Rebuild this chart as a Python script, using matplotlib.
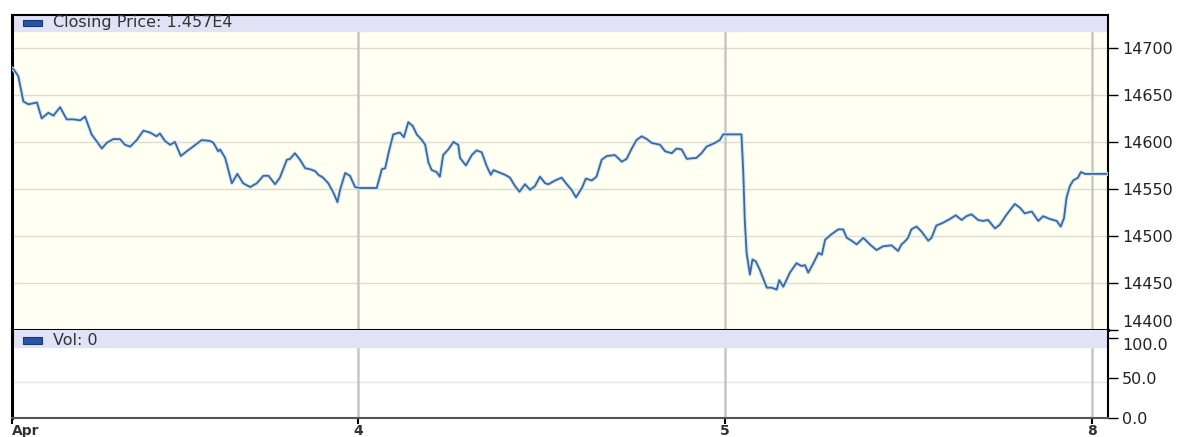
import numpy as np
import matplotlib.pyplot as plt
from matplotlib.patches import Rectangle

# trading-day position (4 = 1.0, 5 = 2.0, 8 = 3.0) and closing price
t = [0.057, 0.062, 0.074, 0.088, 0.102, 0.125, 0.138, 0.156, 0.170, 0.188,
     0.206, 0.224, 0.243, 0.256, 0.274, 0.302, 0.315, 0.333, 0.351, 0.365,
     0.379, 0.397, 0.415, 0.433, 0.451, 0.460, 0.474, 0.488, 0.501, 0.517,
     0.533, 0.547, 0.574, 0.597, 0.606, 0.619, 0.624, 0.638, 0.656, 0.671,
     0.687, 0.706, 0.724, 0.742, 0.756, 0.774, 0.787, 0.806, 0.815, 0.828,
     0.842, 0.856, 0.869, 0.883, 0.892, 0.905, 0.919, 0.933, 0.944, 0.951,
     0.965, 0.978, 0.992, 1.005, 1.051, 1.065, 1.074, 1.083, 1.096, 1.114,
     1.125, 1.137, 1.149, 1.160, 1.174, 1.183, 1.192, 1.201, 1.214, 1.223,
     1.232, 1.246, 1.260, 1.273, 1.278, 1.294, 1.310, 1.323, 1.337, 1.351,
     1.362, 1.369, 1.382, 1.401, 1.414, 1.428, 1.440, 1.455, 1.469, 1.482,
     1.496, 1.510, 1.519, 1.537, 1.555, 1.569, 1.582, 1.594, 1.610, 1.621,
     1.637, 1.650, 1.664, 1.678, 1.700, 1.719, 1.732, 1.746, 1.759, 1.773,
     1.787, 1.800, 1.823, 1.837, 1.855, 1.868, 1.882, 1.896, 1.922, 1.936,
     1.950, 1.973, 1.986, 1.995, 2.045, 2.050, 2.054, 2.059, 2.068, 2.075,
     2.084, 2.095, 2.114, 2.127, 2.141, 2.148, 2.159, 2.177, 2.195, 2.209,
     2.218, 2.227, 2.241, 2.255, 2.264, 2.273, 2.291, 2.309, 2.322, 2.332,
     2.345, 2.359, 2.377, 2.395, 2.413, 2.431, 2.454, 2.472, 2.481, 2.490,
     2.499, 2.508, 2.522, 2.535, 2.554, 2.563, 2.576, 2.594, 2.613, 2.629,
     2.645, 2.658, 2.672, 2.690, 2.703, 2.717, 2.736, 2.749, 2.768, 2.790,
     2.804, 2.817, 2.836, 2.854, 2.867, 2.886, 2.904, 2.915, 2.924, 2.931,
     2.940, 2.949, 2.962, 2.970, 2.981, 3.040]
price = [14678, 14677, 14670, 14643, 14640, 14642, 14625, 14631, 14628, 14637,
         14624, 14624, 14623, 14627, 14608, 14593, 14599, 14603, 14603, 14597,
         14595, 14602, 14612, 14610, 14606, 14609, 14601, 14597, 14600, 14585,
         14590, 14594, 14602, 14601, 14599, 14590, 14592, 14583, 14556, 14566,
         14556, 14552, 14556, 14564, 14564, 14555, 14562, 14581, 14582, 14588,
         14581, 14572, 14571, 14569, 14565, 14562, 14556, 14546, 14536, 14549,
         14567, 14564, 14552, 14551, 14551, 14571, 14572, 14588, 14608, 14610,
         14605, 14621, 14617, 14608, 14602, 14597, 14578, 14570, 14568, 14563,
         14586, 14592, 14600, 14597, 14583, 14575, 14586, 14591, 14589, 14574,
         14565, 14570, 14568, 14565, 14562, 14553, 14547, 14555, 14549, 14553,
         14563, 14556, 14555, 14559, 14562, 14555, 14549, 14541, 14551, 14561,
         14559, 14563, 14581, 14585, 14586, 14579, 14582, 14593, 14602, 14606,
         14603, 14599, 14597, 14590, 14588, 14593, 14592, 14582, 14583, 14588,
         14595, 14599, 14602, 14608, 14608, 14567, 14517, 14482, 14459, 14475,
         14473, 14464, 14445, 14445, 14443, 14453, 14446, 14461, 14471, 14468,
         14469, 14461, 14471, 14482, 14480, 14496, 14502, 14507, 14507, 14498,
         14495, 14491, 14498, 14491, 14485, 14489, 14490, 14484, 14491, 14494,
         14498, 14507, 14510, 14505, 14495, 14498, 14511, 14514, 14518, 14522,
         14517, 14521, 14523, 14517, 14516, 14517, 14508, 14512, 14523, 14534,
         14530, 14524, 14526, 14516, 14521, 14518, 14516, 14510, 14519, 14541,
         14553, 14559, 14562, 14568, 14566, 14566]

day_ticks = [0.057, 1.0, 2.0, 3.0]
day_labels = ['Apr', '4', '5', '8']
price_ticks = [14400, 14450, 14500, 14550, 14600, 14650, 14700]
vol_ticks = [0, 50, 100]
vol_labels = ['0.0', '50.0', '100.0']
legend_price = 'Closing Price: 1.457E4'
legend_vol = 'Vol: 0'

xlim = (0.057, 3.044)
line_col = '#3d689c'
band_col = '#e2e2f6'
grid_col = '#dedbd0'
vgrid_col = '#c6c6c6'
swatch_col = '#2456a8'

fig = plt.figure(figsize=(11.89, 4.37), dpi=100)
ax = fig.add_axes([0.0101, 0.2449, 0.9218, 0.7208])
av = fig.add_axes([0.0101, 0.0435, 0.9218, 0.2014], sharex=ax)

# price panel
ax.set_facecolor('#fffff2')
ax.set_xlim(*xlim)
ax.set_ylim(14400, 14735)
for y in price_ticks[1:]:
    ax.axhline(y, color=grid_col, lw=1, zorder=1)
for x in day_ticks[1:]:
    ax.axvline(x, color=vgrid_col, lw=1.8, zorder=1)
ax.axhspan(14718, 14735, color=band_col, zorder=2)
ax.plot(t, price, color='#cfe6f8', lw=2.8, zorder=3, solid_joinstyle='round')
ax.plot(t, price, color=line_col, lw=1.3, zorder=4, solid_joinstyle='round')
ax.yaxis.tick_right()
ax.set_yticks(price_ticks)
ax.set_yticklabels([str(v) for v in price_ticks], fontsize=11.5, color='#222222')
ax.get_yticklabels()[0].set_va('bottom')
ax.tick_params(axis='y', direction='out', length=7, width=1, pad=3)
ax.tick_params(axis='x', bottom=False, labelbottom=False)
for s in ax.spines.values():
    s.set_linewidth(1.5)
    s.set_color('black')
ax.spines['left'].set_linewidth(2.2)
ax.spines['bottom'].set_linewidth(2.2)
ax.add_patch(Rectangle((0.0097, 0.9635), 0.0173, 0.022, transform=ax.transAxes,
                       facecolor=swatch_col, edgecolor='#1a3a70', lw=0.8, zorder=6))
ax.text(0.0374, 0.976, legend_price, transform=ax.transAxes, color='#333333',
        fontsize=11.5, va='center', ha='left', zorder=6)

# volume panel
av.set_facecolor('white')
av.set_ylim(0, 110)
av.axhline(45, color='#e6e6e6', lw=1, zorder=1)
for x in day_ticks[1:]:
    av.axvline(x, color=vgrid_col, lw=1.8, zorder=1)
av.axhspan(89, 110, color=band_col, zorder=2)
av.yaxis.tick_right()
av.set_yticks(vol_ticks)
av.set_yticklabels(vol_labels, fontsize=11.5, color='#222222')
av.get_yticklabels()[2].set_va('top')
av.tick_params(axis='y', direction='out', length=7, width=1, pad=3)
av.set_xticks(day_ticks)
av.set_xticklabels(day_labels, fontsize=10, fontweight='bold', color='#333333')
av.tick_params(axis='x', direction='out', length=4, width=1.5, pad=0.5)
for s in av.spines.values():
    s.set_linewidth(1.5)
    s.set_color('black')
av.spines['left'].set_linewidth(2.2)
av.spines['bottom'].set_color('#555555')
av.spines['top'].set_visible(False)
av.get_xticklabels()[0].set_ha('left')
av.add_patch(Rectangle((0.0097, 0.845), 0.0173, 0.075, transform=av.transAxes,
                       facecolor=swatch_col, edgecolor='#1a3a70', lw=0.8, zorder=6))
av.text(0.0374, 0.885, legend_vol, transform=av.transAxes, color='#333333',
        fontsize=11.5, va='center', ha='left', zorder=6)

fig.savefig('out.png', dpi=100)
